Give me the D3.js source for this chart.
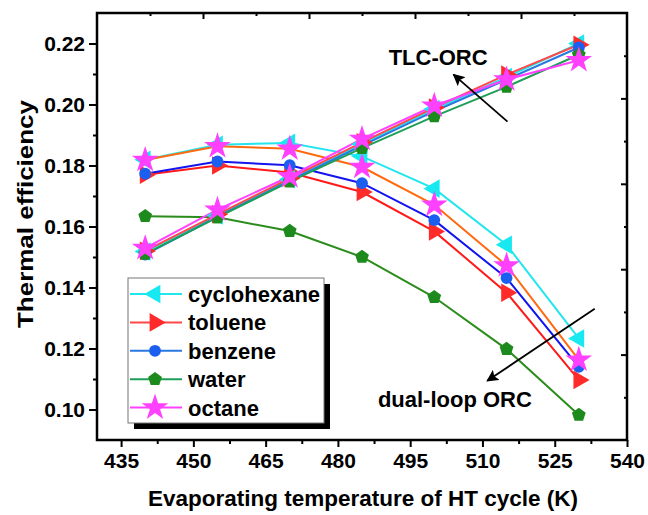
<!DOCTYPE html>
<html><head><meta charset="utf-8">
<script src="https://cdn.jsdelivr.net/npm/d3@7"></script>
<style>body{margin:0;background:#fff}svg{display:block}text{font-family:"Liberation Sans",Arial,sans-serif;font-weight:bold}</style>
</head><body><svg id="c" width="648" height="515"></svg>
<script>
const temps = [440, 455, 470, 485, 500, 515, 530];
const fluids = ["cyclohexane", "toluene", "benzene", "water", "octane"];
// dual-loop ORC (decreasing)
const dualCyclohexane = [0.1819, 0.1868, 0.1874, 0.1830, 0.1724, 0.1540, 0.1233];
const dualToluene     = [0.1770, 0.1800, 0.1777, 0.1713, 0.1584, 0.1383, 0.1097];
const dualBenzene     = [0.1773, 0.1813, 0.1801, 0.1742, 0.1621, 0.1431, 0.1140];
const dualWater       = [0.1634, 0.1630, 0.1585, 0.1500, 0.1368, 0.1198, 0.0982];
const dualOctane      = [0.1818, 0.1863, 0.1855, 0.1795, 0.1671, 0.1472, 0.1163];
// TLC-ORC (increasing)
const tlcCyclohexane = [0.1518, 0.1636, 0.1755, 0.1870, 0.1985, 0.2090, 0.2200];
const tlcToluene     = [0.1520, 0.1640, 0.1758, 0.1876, 0.1990, 0.2098, 0.2196];
const tlcBenzene     = [0.1508, 0.1632, 0.1750, 0.1865, 0.1978, 0.2082, 0.2187];
const tlcWater       = [0.1510, 0.1630, 0.1747, 0.1857, 0.1961, 0.2058, 0.2163];
const tlcOctane      = [0.1529, 0.1655, 0.1764, 0.1887, 0.1996, 0.2082, 0.2145];
const xTicks = [435, 450, 465, 480, 495, 510, 525, 540];
const yTicks = [0.10, 0.12, 0.14, 0.16, 0.18, 0.20, 0.22];

const markerColors = ["#18e8f0", "#ff2a2a", "#1a5ff0", "#1c8a1c", "#ff40ff"];
const tlcLineColors = ["#22e6ee", "#ff4848", "#2878e0", "#1f9e58", "#ff40ff"];
const dualLineColors = ["#22e6ee", "#ff1a1a", "#1414f0", "#2a8c1a", "#ff6a10"];
const shapes = ["tleft", "tright", "circle", "pent", "star"];

const dual = [dualCyclohexane, dualToluene, dualBenzene, dualWater, dualOctane];
const tlc = [tlcCyclohexane, tlcToluene, tlcBenzene, tlcWater, tlcOctane];

const svg = d3.select("#c");
const L = 97, R = 627, T = 13, B = 440;
const x = d3.scaleLinear().domain([430, 540]).range([L, R]);
const y = d3.scaleLinear().domain([0.09, 0.23]).range([B, T]);

const pentagon = { draw(ctx, size) {
  const r = Math.sqrt(size / 2.38);
  for (let i = 0; i < 5; i++) {
    const a = -Math.PI / 2 + i * 2 * Math.PI / 5;
    const px = r * Math.cos(a), py = r * Math.sin(a);
    if (i === 0) ctx.moveTo(px, py); else ctx.lineTo(px, py);
  }
  ctx.closePath();
}};
function markerPath(shape) {
  if (shape === "circle") return d3.symbol(d3.symbolCircle, 110)();
  if (shape === "star") return d3.symbol(d3.symbolStar, 220)();
  if (shape === "pent") return d3.symbol(pentagon, 125)();
  return d3.symbol(d3.symbolTriangle, 150)();
}
function markerRot(shape) {
  if (shape === "tleft") return -90;
  if (shape === "tright") return 90;
  return 0;
}

const line = d3.line().x((d, i) => x(temps[i])).y(d => y(d));
const g = svg.append("g");

function drawSeries(data, lineColors) {
  data.forEach((vals, k) => {
    g.append("path").attr("d", line(vals)).attr("fill", "none")
      .attr("stroke", lineColors[k]).attr("stroke-width", 2);
  });
  data.forEach((vals, k) => {
    g.selectAll(null).data(vals).enter().append("path")
      .attr("d", markerPath(shapes[k]))
      .attr("transform", (d, i) => `translate(${x(temps[i])},${y(d)}) rotate(${markerRot(shapes[k])})`)
      .attr("fill", markerColors[k]);
  });
}
drawSeries(dual, dualLineColors);
drawSeries(tlc, tlcLineColors);

// axes
const ax = svg.append("g");
const xAxis = d3.axisBottom(x).tickValues(xTicks).tickSize(7).tickPadding(6).tickFormat(d3.format("d"));
ax.append("g").attr("transform", `translate(0,${B})`).call(xAxis);
const xMinor = d3.range(442.5, 540, 15);
ax.append("g").attr("transform", `translate(0,${B})`)
  .call(d3.axisBottom(x).tickValues(xMinor).tickSize(4).tickFormat(""));
const yAxis = d3.axisLeft(y).tickValues(yTicks).tickSize(8).tickPadding(4).tickFormat(d3.format(".2f"));
ax.append("g").attr("transform", `translate(${L},0)`).call(yAxis);
const yMinor = [0.11, 0.13, 0.15, 0.17, 0.19, 0.21];
ax.append("g").attr("transform", `translate(${L},0)`)
  .call(d3.axisLeft(y).tickValues(yMinor).tickSize(4).tickFormat(""));
// top & right inward ticks (independent layer scales)
const xt = d3.scaleLinear().domain([0, 10]).range([L, R]);
ax.append("g").attr("transform", `translate(0,${T})`)
  .call(d3.axisBottom(xt).tickValues([2, 4, 6, 8]).tickSize(6).tickFormat(""));
ax.append("g").attr("transform", `translate(0,${T})`)
  .call(d3.axisBottom(xt).tickValues([1, 3, 5, 7, 9]).tickSize(3).tickFormat(""));
const yr = d3.scaleLinear().domain([0, 10]).range([B, T]);
ax.append("g").attr("transform", `translate(${R},0)`)
  .call(d3.axisLeft(yr).tickValues([2, 4, 6, 8]).tickSize(6).tickFormat(""));
ax.append("g").attr("transform", `translate(${R},0)`)
  .call(d3.axisLeft(yr).tickValues([1, 3, 5, 7, 9]).tickSize(3).tickFormat(""));
ax.selectAll(".domain").remove();
ax.selectAll(".tick line").attr("stroke", "#000").attr("stroke-width", 2);
ax.selectAll(".tick text").attr("fill", "#000").style("font-size", "21px")
  .style("font-family", '"Liberation Sans", Arial, sans-serif').style("font-weight", "bold");
svg.append("rect").attr("x", L).attr("y", T).attr("width", R - L).attr("height", B - T)
  .attr("fill", "none").attr("stroke", "#000").attr("stroke-width", 2.5);

// titles
svg.append("text").attr("x", 363).attr("y", 506).attr("text-anchor", "middle")
  .attr("textLength", 430).attr("lengthAdjust", "spacingAndGlyphs")
  .style("font-size", "22px").text("Evaporating temperature of HT cycle (K)");
svg.append("text").attr("transform", `translate(33,214) rotate(-90)`).attr("text-anchor", "middle")
  .attr("textLength", 228).attr("lengthAdjust", "spacingAndGlyphs")
  .style("font-size", "22px").text("Thermal efficiency");

// annotations
const annTLC = { label: "TLC-ORC", tx: 500.8, ty: 0.2131, from: [515.2, 0.1944], to: [504.0, 0.2098] };
const annDual = { label: "dual-loop ORC", tx: 488.3, ty: 0.1008, from: [533.3, 0.1330], to: [511.0, 0.1094] };
svg.append("defs").append("marker").attr("id", "ah").attr("viewBox", "0 0 10 10")
  .attr("refX", 9).attr("refY", 5).attr("markerWidth", 12).attr("markerHeight", 12)
  .attr("markerUnits", "userSpaceOnUse").attr("orient", "auto")
  .append("path").attr("d", "M0,0 L10,5 L0,10 L2,5 Z").attr("fill", "#000");
[annTLC, annDual].forEach((a, i) => {
  svg.append("line").attr("x1", x(a.from[0])).attr("y1", y(a.from[1]))
    .attr("x2", x(a.to[0])).attr("y2", y(a.to[1]))
    .attr("stroke", "#000").attr("stroke-width", 1.8).attr("marker-end", "url(#ah)");
  svg.append("text").attr("x", x(a.tx)).attr("y", y(a.ty))
    .attr("text-anchor", i === 0 ? "middle" : "start")
    .style("font-size", "22px").text(a.label);
});

// legend
const lg = svg.append("g").attr("transform", "translate(128,278)");
lg.append("rect").attr("x", 6).attr("y", 6).attr("width", 196).attr("height", 145).attr("fill", "#000");
lg.append("rect").attr("x", 0).attr("y", 0).attr("width", 196).attr("height", 145)
  .attr("fill", "#fff").attr("stroke", "#777").attr("stroke-width", 1);
fluids.forEach((f, k) => {
  const yy = 16 + k * 28.4;
  lg.append("line").attr("x1", 2).attr("x2", 54).attr("y1", yy).attr("y2", yy)
    .attr("stroke", tlcLineColors[k]).attr("stroke-width", 2);
  lg.append("path").attr("d", markerPath(shapes[k]))
    .attr("transform", `translate(27,${yy}) rotate(${markerRot(shapes[k])})`)
    .attr("fill", markerColors[k]);
  lg.append("text").attr("x", 60).attr("y", yy + 8).style("font-size", "22px").text(f);
});
</script></body></html>
